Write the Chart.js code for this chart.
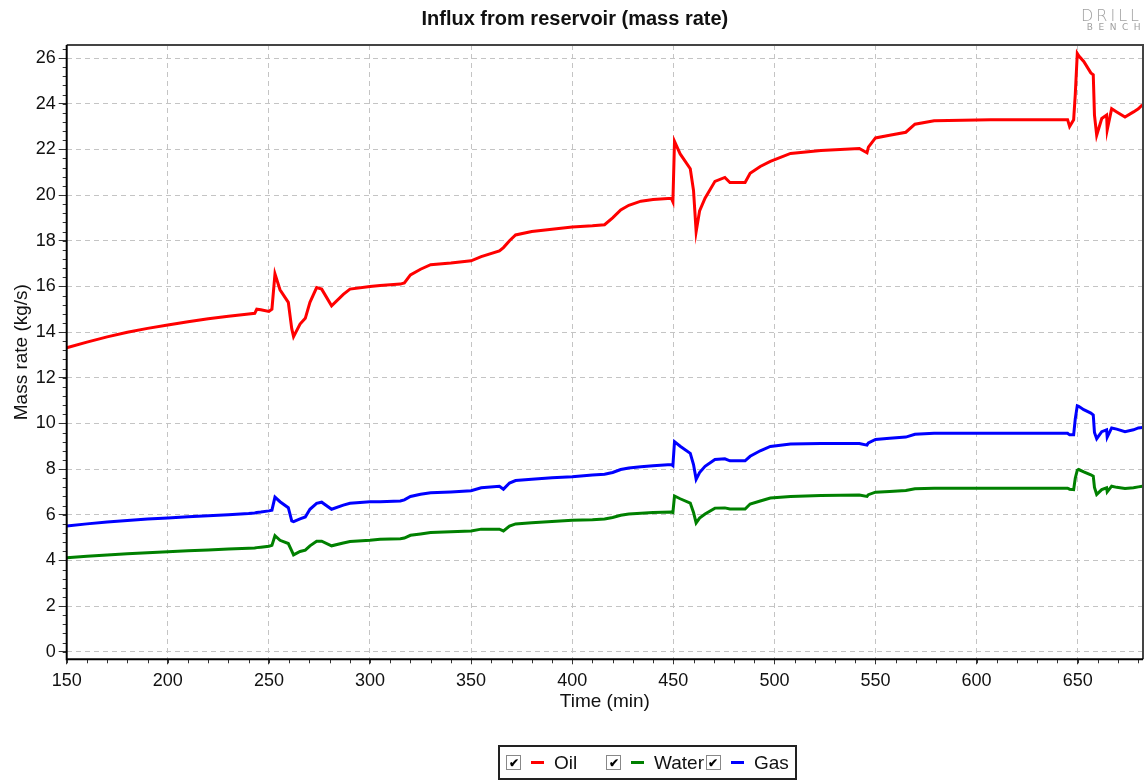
<!DOCTYPE html>
<html>
<head>
<meta charset="utf-8">
<title>Influx from reservoir (mass rate)</title>
<script src="https://cdn.jsdelivr.net/npm/chart.js@4/dist/chart.umd.min.js"></script>
<style>
  html, body { margin: 0; padding: 0; background: #fff; }
  #wrap { position: relative; width: 1147px; height: 782px; overflow: hidden; font-family: "Liberation Sans", Arial, sans-serif; }
  #chart { position: absolute; left: 0; top: 0; }
  .logo { position: absolute; right: 5px; color: #a0a0a0; font-family: "DejaVu Sans", sans-serif; text-align: right; }
  .logo.l1 { top: 6px; font-size: 16px; letter-spacing: 3px; font-weight: 300; }
  .logo.l2 { top: 22px; font-size: 9px; letter-spacing: 5.5px; margin-right: -4px; }
  #legend { position: absolute; left: 498px; top: 745px; width: 299px; height: 35px; border: 2px solid #222;
            display: flex; align-items: center; font-size: 19px; color: #111; box-sizing: border-box; }
  .item { display: flex; align-items: center; }
  .box { width: 13px; height: 13px; border: 1px solid #888; margin-left: 6px; display: flex; align-items: center; justify-content: center;
         font-size: 12px; line-height: 1; color: #000; font-weight: bold; }
  .dash { width: 13px; height: 3px; margin: 0 10px 0 10px; }
</style>
</head>
<body>
<div id="wrap">
  <canvas id="chart" width="1147" height="782"></canvas>
  <div class="logo l1">DRILL</div>
  <div class="logo l2">BENCH</div>
  <div id="legend">
    <div class="item"><span class="box">✔</span><span class="dash" style="background:#ff0000"></span><span style="width:46px">Oil</span></div>
    <div class="item"><span class="box">✔</span><span class="dash" style="background:#008000"></span><span>Water</span></div>
    <div class="item"><span class="box" style="margin-left:2px">✔</span><span class="dash" style="background:#0000ff"></span><span>Gas</span></div>
  </div>
</div>
<script>
const times = [
  150, 160, 170, 180, 190, 200, 210, 220, 230, 240,
  243, 244, 246, 250, 251.5, 253, 255.5, 259.6, 261.3, 262.2,
  265.4, 268, 270.3, 273.6, 276.1, 281, 286.8, 290.1, 300, 305,
  315, 317, 320, 325, 330, 340, 350, 355, 364, 366,
  369, 372, 380, 390, 400, 410, 416, 420, 424, 428,
  434, 440, 449, 449.8, 450.6, 453.4, 458.4, 460, 461.3, 463,
  465.7, 470.6, 475.5, 478, 485.5, 488, 493, 498, 508, 523,
  542, 545.8, 546.5, 550, 557, 565, 569.5, 579, 607, 645,
  646, 648, 648.8, 649.8, 650.5, 653, 656.5, 657.7, 658.3, 659.4,
  661.9, 664.3, 664.6, 666.8, 669.3, 673.4, 677.6, 680, 682
];

const oil = [
  13.31, 13.56, 13.79, 13.99, 14.16, 14.31, 14.45, 14.58, 14.69, 14.79,
  14.82, 15.0, 14.98, 14.9, 15.0, 16.55, 15.85, 15.3, 14.15, 13.8,
  14.35, 14.6, 15.3, 15.95, 15.88, 15.15, 15.65, 15.88, 15.99, 16.04,
  16.1, 16.15, 16.5, 16.75, 16.95, 17.02, 17.12, 17.3, 17.55, 17.7,
  18.0, 18.25, 18.4, 18.5, 18.6, 18.65, 18.7, 19.0, 19.35, 19.55,
  19.73, 19.8, 19.86, 19.7, 22.35, 21.8, 21.15, 20.2, 18.4, 19.3,
  19.86, 20.6, 20.77, 20.55, 20.55, 20.95, 21.25, 21.47, 21.82, 21.95,
  22.04, 21.85, 22.1, 22.5, 22.62, 22.75, 23.1, 23.25, 23.3, 23.3,
  23.0, 23.3, 24.4, 26.2, 26.1, 25.85, 25.35, 25.27, 23.5, 22.62,
  23.35, 23.5, 22.85, 23.78, 23.64, 23.42, 23.64, 23.78, 23.95
];

const water = [
  4.12, 4.18, 4.24, 4.29, 4.34, 4.38, 4.42, 4.46, 4.5, 4.53,
  4.54, 4.56, 4.58, 4.62, 4.66, 5.08, 4.88, 4.74, 4.42, 4.24,
  4.39, 4.45, 4.64, 4.84, 4.84, 4.64, 4.76, 4.83, 4.88, 4.93,
  4.95, 4.98, 5.1, 5.16, 5.22, 5.26, 5.29, 5.37, 5.37, 5.29,
  5.5, 5.6, 5.65, 5.7, 5.76, 5.78, 5.81, 5.88, 5.98, 6.03,
  6.07, 6.1, 6.12, 6.1, 6.82, 6.7, 6.51, 6.1, 5.64, 5.85,
  6.03, 6.29, 6.3, 6.25, 6.25, 6.47, 6.6, 6.73, 6.8, 6.84,
  6.86, 6.8, 6.88, 6.99, 7.02, 7.06, 7.14, 7.16, 7.16, 7.16,
  7.12, 7.1, 7.6, 7.95, 7.98, 7.88, 7.75, 7.69, 7.2, 6.89,
  7.1, 7.18, 7.0, 7.25, 7.2, 7.15, 7.18, 7.22, 7.25
];

const gas = [
  5.51, 5.6, 5.68, 5.75, 5.81, 5.86, 5.91, 5.96, 6.0, 6.05,
  6.08, 6.1, 6.12, 6.17, 6.2, 6.77, 6.57, 6.31, 5.73, 5.7,
  5.82, 5.9, 6.24, 6.5, 6.55, 6.24, 6.42, 6.5, 6.57, 6.57,
  6.6, 6.65, 6.8, 6.9, 6.96, 7.0, 7.05, 7.18, 7.25, 7.12,
  7.39, 7.5, 7.55, 7.62, 7.66, 7.74, 7.77, 7.85, 7.98, 8.05,
  8.1, 8.15, 8.2, 8.15, 9.2, 9.0, 8.69, 8.2, 7.55, 7.85,
  8.12, 8.42, 8.45, 8.36, 8.36, 8.56, 8.8, 8.99, 9.1, 9.12,
  9.12, 9.05, 9.15, 9.3, 9.35, 9.4, 9.52, 9.57, 9.57, 9.57,
  9.5, 9.5, 10.2, 10.77, 10.75, 10.6, 10.45, 10.37, 9.6, 9.33,
  9.64, 9.72, 9.4, 9.8, 9.75, 9.64, 9.72, 9.8, 9.82
];

const X_MIN = 150, X_MAX = 682.3, X_STEP = 50;
const Y_MIN = -0.33, Y_MAX = 26.57, Y_STEP = 2;

const FONT = '"Liberation Sans", Arial, sans-serif';

function series(label, values, color) {
  return {
    label,
    data: times.map((t, i) => ({ x: t, y: values[i] })),
    borderColor: color,
    backgroundColor: color,
    borderWidth: 3,
    pointRadius: 0,
    tension: 0,
    fill: false
  };
}

// minor ticks plus the frame around the plot
const frame = {
  id: 'frame',
  afterDraw(chart) {
    const { ctx, chartArea: a, scales: { x, y } } = chart;
    ctx.save();
    ctx.strokeStyle = '#333';
    ctx.lineWidth = 1;
    ctx.beginPath();
    for (let k = 0; X_MIN + k * 10 <= X_MAX; k++) {
      const px = Math.round(x.getPixelForValue(X_MIN + k * 10)) + 0.5;
      ctx.moveTo(px, a.bottom);
      ctx.lineTo(px, a.bottom + 4);
    }
    for (let k = 0; k * 0.4 <= Y_MAX; k++) {
      const py = Math.round(y.getPixelForValue(k * 0.4)) + 0.5;
      ctx.moveTo(a.left - 4, py);
      ctx.lineTo(a.left, py);
    }
    ctx.stroke();

    ctx.lineWidth = 2;
    ctx.strokeStyle = '#444';
    ctx.beginPath();
    ctx.moveTo(a.left, a.top);
    ctx.lineTo(a.right, a.top);
    ctx.lineTo(a.right, a.bottom);
    ctx.stroke();
    ctx.strokeStyle = '#000';
    ctx.beginPath();
    ctx.moveTo(a.left, a.top);
    ctx.lineTo(a.left, a.bottom);
    ctx.lineTo(a.right, a.bottom);
    ctx.stroke();
    ctx.restore();
  }
};

new Chart(document.getElementById('chart'), {
  type: 'line',
  data: {
    datasets: [
      series('Oil', oil, '#ff0000'),
      series('Water', water, '#008000'),
      series('Gas', gas, '#0000ff')
    ]
  },
  options: {
    responsive: false,
    animation: false,
    layout: { padding: { left: 6.7, right: 4, top: 0, bottom: 68.7 } },
    plugins: {
      legend: { display: false },
      tooltip: { enabled: false },
      title: {
        display: true,
        text: 'Influx from reservoir (mass rate)',
        color: '#111',
        font: { family: FONT, size: 20, weight: 'bold' },
        padding: { top: 7, bottom: 14 }
      }
    },
    scales: {
      x: {
        type: 'linear',
        min: X_MIN,
        max: X_MAX,
        afterFit: s => { s.height = 54; },
        ticks: {
          stepSize: X_STEP,
          includeBounds: false,
          padding: 6,
          maxRotation: 0,
          color: '#111',
          font: { family: FONT, size: 18 }
        },
        grid: {
          color: '#c4c4c4',
          tickColor: '#333',
          tickBorderDash: [],
          tickLength: 5
        },
        border: { display: false, dash: [5, 4] },
        title: {
          display: true,
          text: 'Time (min)',
          color: '#111',
          font: { family: FONT, size: 19 },
          padding: { top: 0, bottom: 0 }
        }
      },
      y: {
        min: Y_MIN,
        max: Y_MAX,
        afterFit: s => { s.width = 60; },
        ticks: {
          stepSize: Y_STEP,
          includeBounds: false,
          padding: 3,
          color: '#111',
          font: { family: FONT, size: 18 }
        },
        grid: {
          color: '#c4c4c4',
          tickColor: '#333',
          tickBorderDash: [],
          tickLength: 8
        },
        border: { display: false, dash: [5, 4] },
        title: {
          display: true,
          text: 'Mass rate (kg/s)',
          color: '#111',
          font: { family: FONT, size: 19 },
          padding: { top: 4, bottom: 0 }
        }
      }
    }
  },
  plugins: [frame]
});
</script>
</body>
</html>
